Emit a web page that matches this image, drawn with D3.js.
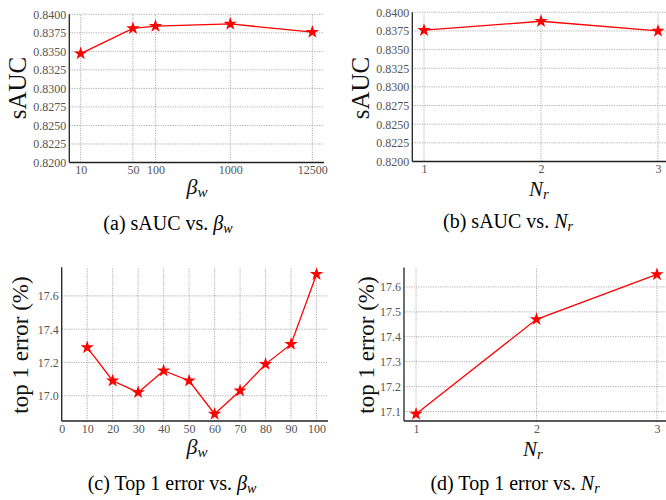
<!DOCTYPE html>
<html><head><meta charset="utf-8">
<script src="https://cdn.jsdelivr.net/npm/d3@7"></script>
<style>
body{margin:0;background:#fff;}
svg{display:block;font-family:"Liberation Serif","Times New Roman",serif;}
.tick text{fill:#555;font-size:12px;font-family:"Liberation Serif","Times New Roman",serif;}
</style></head>
<body><svg id="c" width="666" height="500"></svg>
<script>
// ---- data ----
const betaW_a = [10, 50, 100, 1000, 12500];
const sAUC_a = [0.8347, 0.8381, 0.8384, 0.8387, 0.8376];
const nr_b = [1, 2, 3];
const sAUC_b = [0.8376, 0.8388, 0.8375];
const betaW_c = [10, 20, 30, 40, 50, 60, 70, 80, 90, 100];
const err_c = [17.29, 17.09, 17.02, 17.15, 17.09, 16.89, 17.03, 17.19, 17.31, 17.73];
const nr_d = [1, 2, 3];
const err_d = [17.09, 17.47, 17.65];
const sAUCTicks = [0.8200, 0.8225, 0.8250, 0.8275, 0.8300, 0.8325, 0.8350, 0.8375, 0.8400];
const errTicks_c = [17.0, 17.2, 17.4, 17.6];
const errTicks_d = [17.1, 17.2, 17.3, 17.4, 17.5, 17.6];
const xTicks_c = [0, 10, 20, 30, 40, 50, 60, 70, 80, 90, 100];

const svg = d3.select("#c");

function panel(o){
  const g = svg.append("g");
  const x = o.x, y = o.y;
  const [x0, x1] = x.range(), [y0, y1] = y.range();
  // grid
  const grid = g.append("g").attr("stroke","#9a9a9a").attr("stroke-width",0.8).attr("stroke-dasharray","1.2,1.2");
  grid.selectAll(".gx").data(o.xt).join("line")
    .attr("x1",d=>x(d)).attr("x2",d=>x(d)).attr("y1",y0).attr("y2",y1);
  grid.selectAll(".gy").data(o.yt).join("line")
    .attr("y1",d=>y(d)).attr("y2",d=>y(d)).attr("x1",x0).attr("x2",x1);
  // axes (labels only)
  const ax = g.append("g").attr("transform",`translate(0,${y0})`)
    .call(d3.axisBottom(x).tickValues(o.xt).tickFormat(o.xf).tickSize(0).tickPadding(3));
  ax.select(".domain").remove();
  const ay = g.append("g").attr("transform",`translate(${x0},0)`)
    .call(d3.axisLeft(y).tickValues(o.yt).tickFormat(o.yf).tickSize(0).tickPadding(3));
  ay.select(".domain").remove();
  ax.attr("font-family",null).attr("font-size",null);
  ay.attr("font-family",null).attr("font-size",null);
  // spines
  g.append("line").attr("x1",x0).attr("x2",x0).attr("y1",y0).attr("y2",y1).attr("stroke","#222").attr("stroke-width",1.3);
  g.append("line").attr("x1",x0).attr("x2",x1).attr("y1",y0).attr("y2",y0).attr("stroke","#222").attr("stroke-width",1.3);
  // line + stars
  const pts = o.xs.map((v,i)=>[v,o.ys[i]]);
  g.append("path").datum(pts).attr("fill","none").attr("stroke","#ff0000").attr("stroke-width",1.3)
    .attr("d",d3.line().x(d=>x(d[0])).y(d=>y(d[1])));
  g.selectAll(".star").data(pts).join("path")
    .attr("transform",d=>`translate(${x(d[0])},${y(d[1])})`)
    .attr("d",d3.symbol(d3.symbolStar,56)).attr("fill","#ff0000");
  // y label
  g.append("text").attr("transform",`translate(${o.ylx},${o.yly}) rotate(-90)`)
    .attr("text-anchor","middle").attr("dominant-baseline","central")
    .attr("font-size",o.ylfs).attr("fill","#111").text(o.ylab);
  // x label
  const xl = g.append("text").attr("x",o.xlx).attr("y",o.xly).attr("text-anchor","middle")
    .attr("font-size",o.xlfs).attr("font-style","italic").attr("fill","#111");
  xl.append("tspan").text(o.xsym);
  xl.append("tspan").attr("font-size",15).attr("dy",3).text(o.xsub);
  // caption
  const cap = g.append("text").attr("x",o.cx).attr("y",o.cy).attr("text-anchor","middle")
    .attr("font-size",20).attr("fill","#000");
  cap.append("tspan").text(o.cap);
  cap.append("tspan").attr("font-style","italic").text(o.xsym);
  cap.append("tspan").attr("font-style","italic").attr("font-size",14).attr("dy",3).text(o.xsub);
}

const f4 = d3.format(".4f"), f1 = d3.format(".1f"), fd = d3.format("d");

panel({
  x: d3.scaleLog().domain([7.05, 17900]).range([69.3, 324]),
  y: d3.scaleLinear().domain([0.82, 0.84]).range([162.5, 14.3]),
  xt: betaW_a, yt: sAUCTicks, xf: fd, yf: f4, xs: betaW_a, ys: sAUC_a,
  ylab: "sAUC", ylx: 17, yly: 88, ylfs: 25,
  xsym: "β", xsub: "w", xlx: 197, xly: 194, xlfs: 22,
  cap: "(a) sAUC vs. ", cx: 168, cy: 230
});
panel({
  x: d3.scaleLinear().domain([0.9, 3.1]).range([412.3, 669.7]),
  y: d3.scaleLinear().domain([0.82, 0.84]).range([161.5, 12.3]),
  xt: nr_b, yt: sAUCTicks, xf: fd, yf: f4, xs: nr_b, ys: sAUC_b,
  ylab: "sAUC", ylx: 360, yly: 88, ylfs: 25,
  xsym: "N", xsub: "r", xlx: 539, xly: 195.5, xlfs: 21,
  cap: "(b) sAUC vs. ", cx: 508, cy: 228
});
panel({
  x: d3.scaleLinear().domain([0, 104.5]).range([61.7, 328]),
  y: d3.scaleLinear().domain([16.848, 17.772]).range([421, 267.3]),
  xt: xTicks_c, yt: errTicks_c, xf: fd, yf: f1, xs: betaW_c, ys: err_c,
  ylab: "top 1 error (%)", ylx: 20, yly: 345, ylfs: 23,
  xsym: "β", xsub: "w", xlx: 197, xly: 454, xlfs: 22,
  cap: "(c) Top 1 error vs. ", cx: 172, cy: 490
});
panel({
  x: d3.scaleLinear().domain([0.9, 3.1]).range([404, 669]),
  y: d3.scaleLinear().domain([17.062, 17.678]).range([421, 267.5]),
  xt: nr_d, yt: errTicks_d, xf: fd, yf: f1, xs: nr_d, ys: err_d,
  ylab: "top 1 error (%)", ylx: 366, yly: 345, ylfs: 23,
  xsym: "N", xsub: "r", xlx: 533, xly: 456, xlfs: 21,
  cap: "(d) Top 1 error vs. ", cx: 515, cy: 490
});
</script></body></html>
